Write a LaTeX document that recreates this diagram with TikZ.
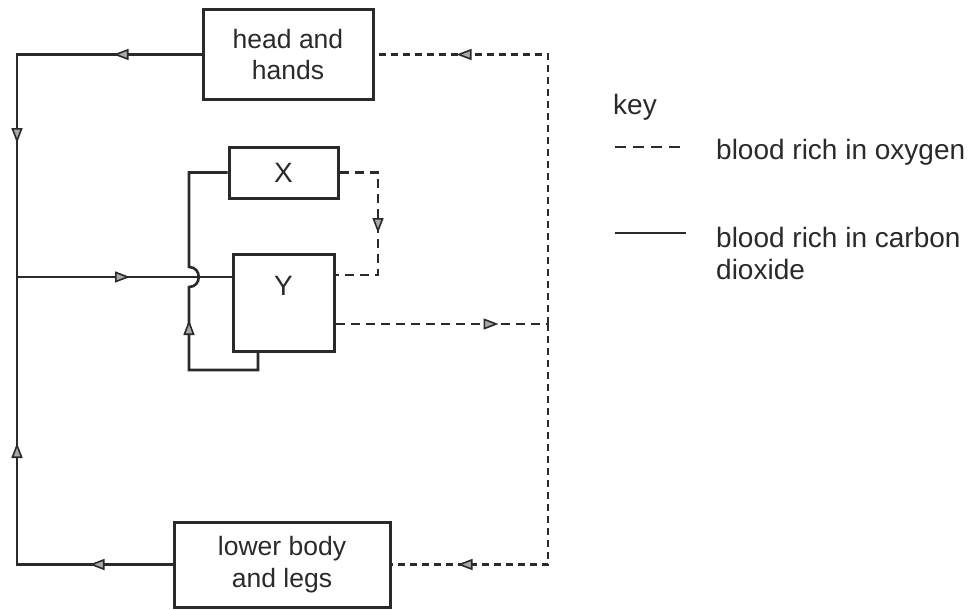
\documentclass[tikz,border=0pt]{standalone}
\usepackage{fontspec}
\setmainfont{Liberation Sans}
\usetikzlibrary{arrows.meta,decorations.markings}
\definecolor{ink}{HTML}{2A2A2A}
\definecolor{tipfill}{HTML}{A8A8A8}
\tikzset{
  box/.style={draw=ink, line width=3pt, inner sep=0pt, text=ink, font=\fontsize{26.5}{31.5}\selectfont},
  solidline/.style={draw=ink, line width=2.6pt},
  dashline/.style={draw=ink, line width=2.6pt, dash pattern=on 9pt off 6pt},
  vdashline/.style={draw=ink, line width=2.6pt, dash pattern=on 7pt off 5pt},
  keytext/.style={text=ink, inner sep=0pt, font=\fontsize{28}{32}\selectfont},
  flowmark/.style={postaction={decorate, decoration={markings,
      mark=at position #1 with {\arrow{Triangle[length=15pt,width=11pt,fill=tipfill,line width=1.6pt]}}}}},
}
\begin{document}
\begin{tikzpicture}[x=1pt,y=-1pt]
\useasboundingbox (0,0) rectangle (974,610);
% boxes
\node[box, align=center, minimum width=170pt, minimum height=89pt] (head) at (288,54.5) {head and\\hands};
\node[box, minimum width=109pt, minimum height=51pt, font=\fontsize{28}{30}\selectfont] (X) at (283.5,172.5) {X};
\node[box, anchor=north, minimum width=101pt, text height=41pt, text depth=56pt, font=\fontsize{28}{30}\selectfont] (Y) at (283.5,253) {Y};
\node[box, align=center, minimum width=216pt, minimum height=85pt] (lower) at (282,564.5) {lower body\\and legs};
% helper points
\coordinate (tl) at (17,54.5);
\coordinate (bl) at (17,564.5);
\coordinate (j) at (17,277);
\coordinate (hop) at (189,277);
\coordinate (xl) at (189,172.5);
\coordinate (lb) at (189,370);
\coordinate (rb) at (258,370);
\coordinate (xr) at (378,172.5);
\coordinate (yr) at (378,275);
\coordinate (ry) at (548,324);
\coordinate (rt) at (548,54.5);
\coordinate (rbt) at (548,564.5);
% solid (carbon dioxide) connectors
\draw[solidline, flowmark=88pt, flowmark=273pt] (head.west) -- (tl) -- (j);
\draw[solidline, flowmark=83pt, flowmark=277pt] (lower.west) -- (bl) -- (j);
\draw[solidline, flowmark=113pt] (j) -- (Y.west |- j);
\draw[solidline, flowmark=136pt] (Y.south -| rb) -- (rb) -- (lb) -- ([yshift=-10pt]hop)
   .. controls ([xshift=13pt,yshift=-10pt]hop) and ([xshift=13pt,yshift=10pt]hop) .. ([yshift=10pt]hop)
   -- (xl) -- (X.west);
% dashed (oxygen) connectors
\draw[dashline, flowmark=99pt] (X.east) -- (xr) -- (yr) -- (Y.east |- yr);
\draw[dashline, flowmark=163pt] (Y.east |- ry) -- (ry);
\draw[vdashline, flowmark=361pt] (ry) -- (rt) -- (head.east);
\draw[vdashline, flowmark=331pt] (ry) -- (rbt) -- (lower.east);
% key
\node[keytext, anchor=west] (keyt) at (613,107) {key};
\coordinate (k1a) at (615,147);
\coordinate (k1b) at (686,147);
\coordinate (k2a) at (615,233);
\coordinate (k2b) at (686,233);
\draw[draw=ink, line width=2pt, dash pattern=on 11pt off 7pt] (k1a) -- (k1b);
\draw[draw=ink, line width=2pt] (k2a) -- (k2b);
\node[keytext, anchor=west] (oxy) at (716,152) {blood rich in oxygen};
\node[keytext, anchor=north west, align=left] (cdx) at (716,227) {blood rich in carbon\\dioxide};
\end{tikzpicture}
\end{document}
